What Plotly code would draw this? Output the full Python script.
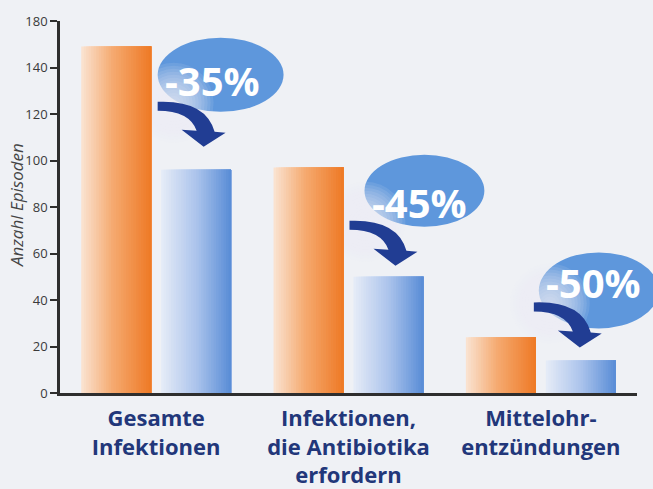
import plotly.graph_objects as go

# ---- data ----
categories = ["Gesamte<br>Infektionen", "Infektionen,<br>die Antibiotika<br>erfordern", "Mittelohr-<br>entzündungen"]
control_values = [149, 97, 24]        # orange bars
treated_values = [96, 50, 14]         # blue bars
reduction_labels = ["-35%", "-45%", "-50%"]
y_tickvals = [0, 20, 40, 60, 80, 100, 120, 140, 160]
y_ticktext = ["0", "20", "40", "60", "80", "100", "120", "140", "180"]
y_title = "Anzahl Episoden"

# ---- layout geometry ----
W, H = 653, 489
M = dict(l=60, r=15.5, t=21, b=96)
XR = [-0.5, len(categories) - 0.5]
YR = [0, 160]
plot_w = W - M["l"] - M["r"]
plot_h = H - M["t"] - M["b"]
PX_X = (XR[1] - XR[0]) / plot_w   # data units per px
PX_Y = (YR[1] - YR[0]) / plot_h

BAR_W = 70 * PX_X
OFF_A = -75 * PX_X
OFF_B = 5 * PX_X

BG = "#eff1f5"
NAVY = "#22377a"
ARROW = "#213d93"
BUBBLE = "#5e97dc"

def lerp(c1, c2, t):
    return tuple(round(a + (b - a) * t) for a, b in zip(c1, c2))

def grad(stops, t):
    for (t0, c0), (t1, c1) in zip(stops, stops[1:]):
        if t <= t1:
            return lerp(c0, c1, (t - t0) / (t1 - t0))
    return stops[-1][1]

ORANGE_STOPS = [(0, (250, 228, 211)), (0.45, (245, 170, 112)), (1, (238, 121, 37))]
BLUE_STOPS = [(0, (230, 236, 247)), (0.5, (172, 196, 236)), (1, (88, 140, 214))]

fig = go.Figure()
xs = list(range(len(categories)))
N = 28
for vals, off, stops in [(control_values, OFF_A, ORANGE_STOPS), (treated_values, OFF_B, BLUE_STOPS)]:
    for k in range(N):
        c = grad(stops, (k + 0.5) / N)
        fig.add_trace(go.Bar(
            x=xs, y=vals, width=BAR_W * (N - k) / N, offset=off + k * BAR_W / N,
            marker=dict(color="rgb(%d,%d,%d)" % c, line=dict(width=0)),
            showlegend=False, hoverinfo="y",
        ))

# ---- badges (positions in px relative to the blue bar top centre) ----
tip_rel = [(7.5, -23), (7, -11), (-1, -13)]
ell_rel = [((17, -72), 63, 37), ((29, -75), 60, 36), ((19, -57), 60, 38)]
txt_rel = [(9, -66), (24, -63), (14, -65)]

def px(xd):
    return (xd - XR[0]) / (XR[1] - XR[0])

def py(yd):
    return (yd - YR[0]) / (YR[1] - YR[0])

shapes = []
annotations = []
for i, (xc, v) in enumerate(zip(xs, treated_values)):
    bx = xc + OFF_B + BAR_W / 2
    tx = bx + tip_rel[i][0] * PX_X
    ty = v - tip_rel[i][1] * PX_Y

    def X(dx):
        return px(tx + dx * PX_X)

    def Y(dy):
        return py(ty - dy * PX_Y)

    def P(dx, dy):
        return "%.5f,%.5f" % (X(dx), Y(dy))

    (ecx, ecy), rx, ry = ell_rel[i]
    shapes.append(dict(type="circle", xref="paper", yref="paper", layer="below",
                       x0=X(ecx - rx), x1=X(ecx + rx), y0=Y(ecy + ry), y1=Y(ecy - ry),
                       fillcolor=BUBBLE, line=dict(width=0)))
    # soft fade of the bubble near the arrow start
    fcx, fcy = -30, -44
    for r in range(40, 2, -3):
        shapes.append(dict(type="circle", xref="paper", yref="paper", layer="below",
                           x0=X(fcx - r), x1=X(fcx + r), y0=Y(fcy + r), y1=Y(fcy - r),
                           fillcolor=BG, opacity=0.11, line=dict(width=0)))
    path = ("M" + P(-46, -45) + " Q" + P(2, -47) + " " + P(11, -15) +
            " L" + P(22, -14) + " L" + P(0, 0) + " L" + P(-22, -17) +
            " L" + P(-7, -16) + " Q" + P(-14, -36) + " " + P(-46, -36) + " Z")
    shapes.append(dict(type="path", xref="paper", yref="paper", layer="below", path=path,
                       fillcolor=ARROW, line=dict(width=0)))
    annotations.append(dict(x=X(txt_rel[i][0]), y=Y(txt_rel[i][1]),
                            xref="paper", yref="paper", text=reduction_labels[i], showarrow=False,
                            font=dict(family="Open Sans", size=40, color="white", weight="bold"),
                            xanchor="center", yanchor="middle"))

annotations.append(dict(x=(16 - M["l"]) / plot_w, y=(H - M["b"] - 205) / plot_h,
                        xref="paper", yref="paper", text=y_title, showarrow=False,
                        textangle=-90, xanchor="center", yanchor="middle",
                        font=dict(family="Open Sans", size=17, color="#444", style="italic")))

fig.update_layout(
    width=W, height=H, margin=M, barmode="overlay",
    paper_bgcolor=BG, plot_bgcolor=BG,
    shapes=shapes, annotations=annotations, showlegend=False,
    xaxis=dict(range=XR, tickvals=xs, ticktext=categories, showgrid=False, zeroline=False,
               showline=True, linecolor="#2e2e2e", linewidth=2.5, ticks="",
               ticklabelstandoff=4, automargin=False,
               tickfont=dict(family="Open Sans", size=22, color=NAVY, weight="bold"),
               fixedrange=True),
    yaxis=dict(range=YR, tickvals=y_tickvals, ticktext=y_ticktext, showgrid=False,
               zeroline=False, showline=True, linecolor="#2e2e2e", linewidth=2.5,
               ticks="outside", ticklen=7, tickwidth=2, tickcolor="#2e2e2e",
               automargin=False,
               tickfont=dict(family="Open Sans", size=13, color="#3a3a3a"),
               fixedrange=True),
)

fig.write_html("out.html", config={"displayModeBar": False},
               post_script="document.body.style.margin='0';")
